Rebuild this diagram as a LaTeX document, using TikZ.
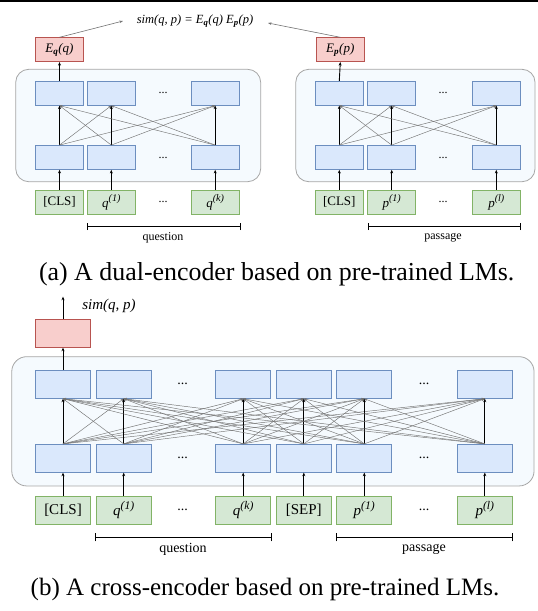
\documentclass[tikz,border=0pt]{standalone}
\usepackage{fontspec}
\setmainfont{Liberation Serif}
\usetikzlibrary{arrows.meta}
\definecolor{bfill}{HTML}{DAE8FC}\definecolor{bdraw}{HTML}{6C8EBF}
\definecolor{gfill}{HTML}{D5E8D4}\definecolor{gdraw}{HTML}{82B366}
\definecolor{rfill}{HTML}{F8CECC}\definecolor{rdraw}{HTML}{B85450}
\definecolor{cfill}{HTML}{F5FAFE}\definecolor{cdraw}{HTML}{A6A6A6}
\newcommand{\mysup}[1]{\raisebox{0.42em}{\scalebox{0.78}{\textit{#1}}}}
\begin{document}
\begin{tikzpicture}[x=1pt,y=-1pt,
  boxa/.style={draw=bdraw,fill=bfill,line width=0.8pt,minimum width=48pt,minimum height=24pt,inner sep=0pt},
  boxb/.style={draw=bdraw,fill=bfill,line width=0.8pt,minimum width=55pt,minimum height=28pt,inner sep=0pt},
  ina/.style={boxa,draw=gdraw,fill=gfill,font=\fontsize{13}{15}\selectfont},
  inb/.style={boxb,draw=gdraw,fill=gfill,font=\fontsize{15}{17}\selectfont},
  outa/.style={boxa,draw=rdraw,fill=rfill,font=\fontsize{13}{15}\selectfont},
  outb/.style={boxb,draw=rdraw,fill=rfill},
  cont/.style={draw=cdraw,fill=cfill,line width=0.8pt,rounded corners=13pt},
  up/.style={line width=0.9pt,-{Stealth[length=3.5pt,width=3pt]}},
  cross/.style={line width=0.45pt,draw=black!55,-{Stealth[length=3pt,width=2.5pt]}},
  simarrow/.style={line width=0.6pt,draw=black!55,-{Stealth[length=3.5pt,width=2.5pt]}},
  dotsa/.style={font=\fontsize{12}{14}\selectfont},
  dotsb/.style={font=\fontsize{14}{16}\selectfont},
  lbla/.style={font=\fontsize{12}{14}\selectfont},
  lblb/.style={font=\fontsize{14}{16}\selectfont},
  bracket/.style={line width=0.9pt},
  captxt/.style={font=\fontsize{25}{30}\selectfont,anchor=base}]
\useasboundingbox (0,0) rectangle (538,611);
\fill[black] (0,0) rectangle (538,1.7);

% ---------------- (a) ----------------
\node[cont,minimum width=245pt,minimum height=112.4pt] (cqa) at (138.2,125.5) {};
\node[cont,minimum width=239.3pt,minimum height=112.4pt] (cpa) at (415.4,125.5) {};
% question side
\foreach \n/\x in {1/59.5,2/111.3,3/215.2}{
  \node[boxa] (qu\n) at (\x,93.2) {};
  \node[boxa] (ql\n) at (\x,157.5) {};
}
\node[ina] (qi1) at (59.5,202.3) {[CLS]};
\node[ina] (qi2) at (111.3,202.3) {\textit{q}\mysup{(1)}};
\node[ina] (qi3) at (215.2,202.3) {\textit{q}\mysup{(k)}};
\node[dotsa] (qd1) at (163,93.2) {...};
\node[dotsa] (qd2) at (163,157.5) {...};
\node[dotsa] (qd3) at (163,202.3) {...};
\node[outa] (eq) at (59.5,49.7) {\textit{E}\textsubscript{\textbf{\textit{q}}}\textit{(q)}};
% passage side
\foreach \n/\x in {1/339.3,2/391.7,3/496.3}{
  \node[boxa] (pu\n) at (\x,93.2) {};
  \node[boxa] (pl\n) at (\x,157.5) {};
}
\node[ina] (pi1) at (339.3,202.3) {[CLS]};
\node[ina] (pi2) at (391.7,202.3) {\textit{p}\mysup{(1)}};
\node[ina] (pi3) at (496.3,202.3) {\textit{p}\mysup{(l)}};
\node[dotsa] (pd1) at (443,93.2) {...};
\node[dotsa] (pd2) at (443,157.5) {...};
\node[dotsa] (pd3) at (443,202.3) {...};
\node[outa] (ep) at (340.3,49.7) {\textit{E}\textsubscript{\textbf{\textit{p}}}\textit{(p)}};

\foreach \s in {q,p}{
  \foreach \i in {1,2,3}{
    \draw[up] (\s i\i.north) -- (\s l\i.south);
    \draw[up] (\s l\i.north) -- (\s u\i.south);
    \foreach \j in {1,2,3}{
      \ifnum\i=\j\else \draw[cross] (\s l\i.north) -- (\s u\j.south);\fi
    }
  }
}
\draw[up] (qu1.north) -- (eq.south);
\draw[up] (pu1.north) -- (ep.south);

\node[font=\fontsize{12.5}{14}\selectfont\itshape] (sim) at (195,21)
  {sim(q, p) = \textit{E}\textsubscript{\textbf{\textit{q}}}(q) \textit{E}\textsubscript{\textbf{\textit{p}}}(p)};
\coordinate (simL) at (123,21);
\coordinate (simR) at (268,23);
\draw[simarrow] (eq.north) -- (simL);
\draw[simarrow] (ep.north) -- (simR);

% braces (a)
\coordinate (qb1) at (87.3,226.7); \coordinate (qb2) at (240.3,226.7);
\draw[bracket] (qb1) -- (qb2);
\draw[bracket] ([yshift=-3.5pt]qb1) -- ([yshift=3.5pt]qb1);
\draw[bracket] ([yshift=-3.5pt]qb2) -- ([yshift=3.5pt]qb2);
\node[lbla] (qlbl) at (163,237.5) {question};
\coordinate (pb1) at (368.3,226.7); \coordinate (pb2) at (520.3,226.7);
\draw[bracket] (pb1) -- (pb2);
\draw[bracket] ([yshift=-3.5pt]pb1) -- ([yshift=3.5pt]pb1);
\draw[bracket] ([yshift=-3.5pt]pb2) -- ([yshift=3.5pt]pb2);
\node[lbla] (plbl) at (443,237.5) {passage};

\node[captxt,font=\fontsize{25.9}{30}\selectfont] (capa) at (276.7,280) {(a) A dual-encoder based on pre-trained LMs.};

% ---------------- (b) ----------------
\node[cont,minimum width=522.3pt,minimum height=129.3pt,rounded corners=15pt] (cb) at (272.9,421.3) {};
\foreach \n/\x in {1/63,2/123.7,3/243.2,4/303.8,5/364.3,6/484.8}{
  \node[boxb] (bu\n) at (\x,384.3) {};
  \node[boxb] (bl\n) at (\x,458.3) {};
}
\node[inb] (bi1) at (63,510.3) {[CLS]};
\node[inb] (bi2) at (123.7,510.3) {\textit{q}\mysup{(1)}};
\node[inb] (bi3) at (243.2,510.3) {\textit{q}\mysup{(k)}};
\node[inb] (bi4) at (303.8,510.3) {[SEP]};
\node[inb] (bi5) at (364.3,510.3) {\textit{p}\mysup{(1)}};
\node[inb] (bi6) at (484.8,510.3) {\textit{p}\mysup{(l)}};
\foreach \x/\n in {182.7/a,424/b}{
  \node[dotsb] (bd\n1) at (\x,384.3) {...};
  \node[dotsb] (bd\n2) at (\x,458.3) {...};
  \node[dotsb] (bd\n3) at (\x,510.3) {...};
}
\foreach \i in {1,...,6}{
  \draw[up] (bi\i.north) -- (bl\i.south);
  \draw[up] (bl\i.north) -- (bu\i.south);
  \foreach \j in {1,...,6}{
    \ifnum\i=\j\else \draw[cross] (bl\i.north) -- (bu\j.south);\fi
  }
}
\node[outb] (br) at (63,333.3) {};
\draw[up] (bu1.north) -- (br.south);
\coordinate (btop) at (63,296.7);
\draw[up] (br.north) -- (btop);
\node[font=\fontsize{15}{17}\selectfont\itshape] (bsim) at (109,306) {sim(q, p)};

\coordinate (bq1) at (95.7,537.3); \coordinate (bq2) at (271.3,537.3);
\draw[bracket] (bq1) -- (bq2);
\draw[bracket] ([yshift=-4pt]bq1) -- ([yshift=4pt]bq1);
\draw[bracket] ([yshift=-4pt]bq2) -- ([yshift=4pt]bq2);
\node[lblb] (bqlbl) at (183,549.5) {question};
\coordinate (bp1) at (336.3,537.3); \coordinate (bp2) at (512.3,537.3);
\draw[bracket] (bp1) -- (bp2);
\draw[bracket] ([yshift=-4pt]bp1) -- ([yshift=4pt]bp1);
\draw[bracket] ([yshift=-4pt]bp2) -- ([yshift=4pt]bp2);
\node[lblb] (bplbl) at (424,549.5) {passage};

\node[captxt] (capb) at (265,595) {(b) A cross-encoder based on pre-trained LMs.};
\end{tikzpicture}
\end{document}
